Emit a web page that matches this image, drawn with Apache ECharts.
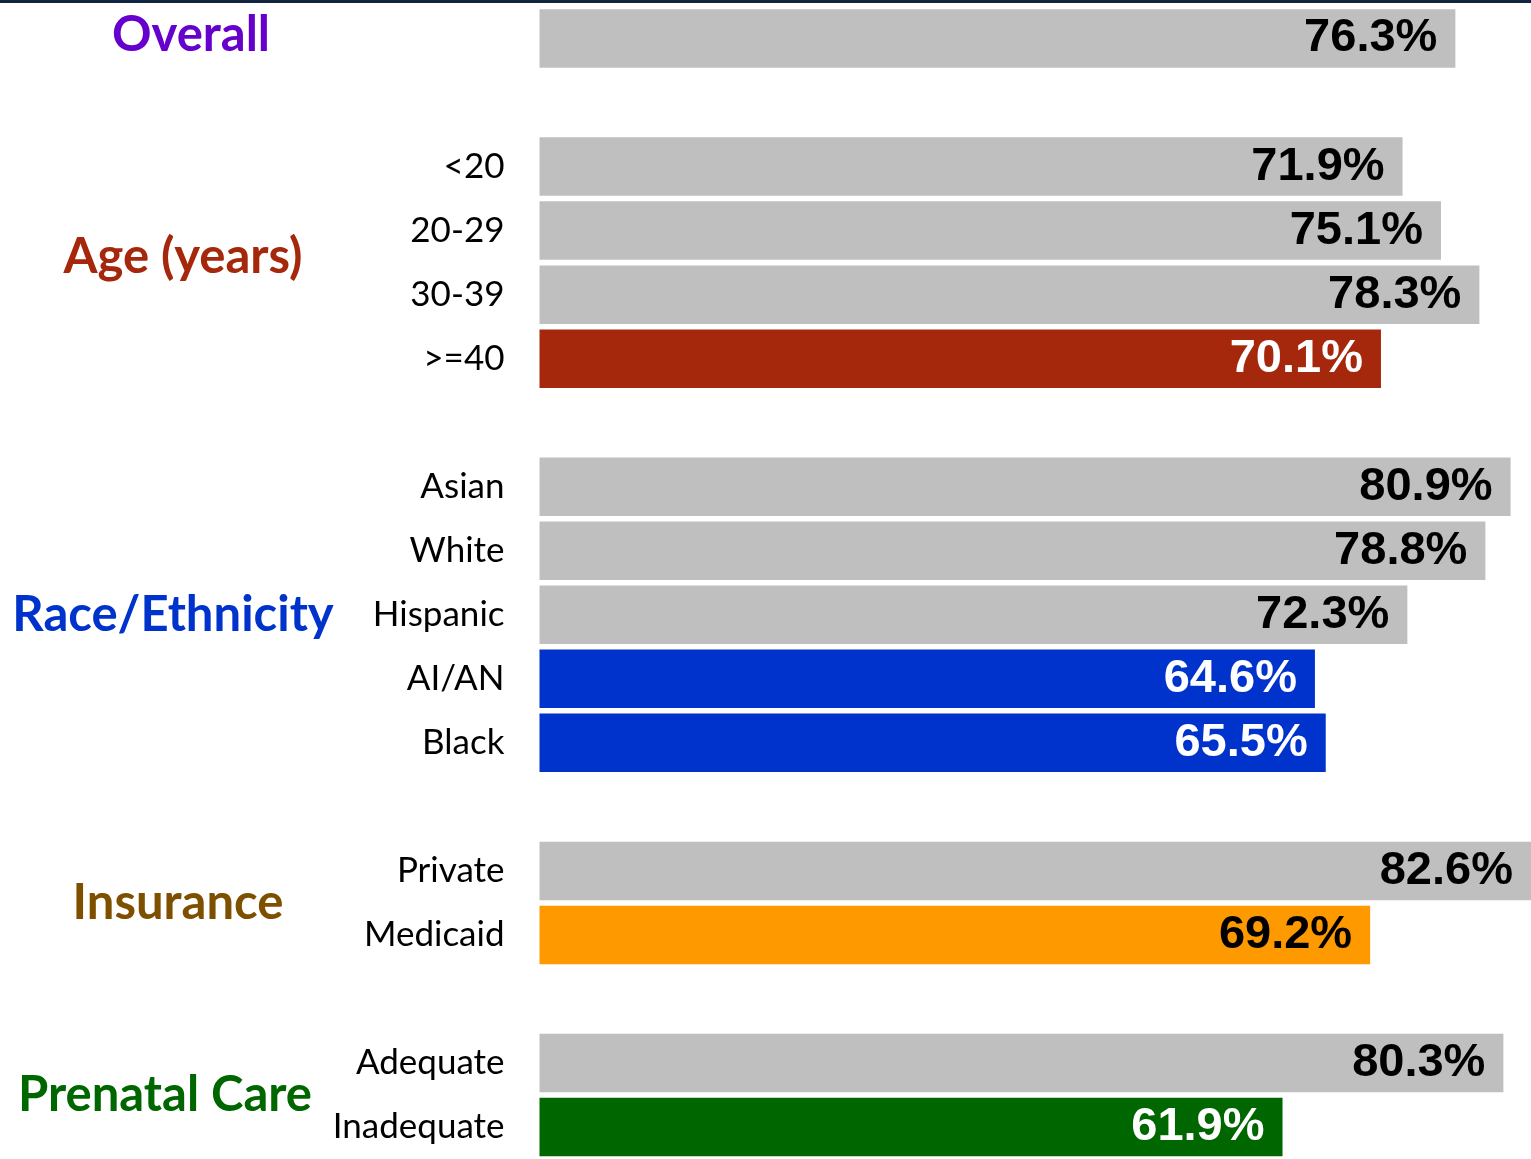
<!DOCTYPE html>
<html>
<head>
<meta charset="utf-8">
<script src="https://cdn.jsdelivr.net/npm/echarts@6/dist/echarts.min.js"></script>
<style>
html,body{margin:0;padding:0;background:#fff;}
#chart{width:1531px;height:1159px;}
</style>
</head>
<body>
<div id="chart"></div>
<script>
// ---- data ----
var categories = ['Overall','gap1','<20','20-29','30-39','>=40','gap2','Asian','White','Hispanic','AI/AN','Black','gap3','Private','Medicaid','gap4','Adequate','Inadequate'];
var values     = [76.3, null, 71.9, 75.1, 78.3, 70.1, null, 80.9, 78.8, 72.3, 64.6, 65.5, null, 82.6, 69.2, null, 80.3, 61.9];
var highlight  = ['','', '', '', '', 'age', '', '', '', '', 'race', 'race', '', '', 'ins', '', '', 'care'];
var groupNames = ['Overall','Age (years)','Race/Ethnicity','Insurance','Prenatal Care'];
var groupFirst = ['Overall','<20','Asian','Private','Adequate'];
var groupLast  = ['Overall','>=40','Black','Medicaid','Inadequate'];

// ---- styles ----
var barColors = {'':'#BFBFBF', age:'#A5270C', race:'#0033CC', ins:'#FF9900', care:'#006600'};
var labelColors = {'':'#000000', age:'#FFFFFF', race:'#FFFFFF', ins:'#000000', care:'#FFFFFF'};
var groupColors = ['#6600CC','#A5270C','#0033CC','#7F4F00','#006600'];
var groupCenterX = [191, 183, 173, 178, 165];

var chart = echarts.init(document.getElementById('chart'));

var seriesData = values.map(function(v, i){
  var k = highlight[i];
  return {
    value: v,
    itemStyle: {color: barColors[k]},
    label: {color: labelColors[k]}
  };
});

chart.setOption({
  animation: false,
  backgroundColor: '#ffffff',
  grid: {left: 539.5, top: 6.5, width: 995, height: 1155.6, containLabel: false},
  xAxis: {
    type: 'value', min: 0, max: 82.6,
    show: false
  },
  yAxis: {
    type: 'category', data: categories, inverse: true,
    axisLine: {show: false}, axisTick: {show: false}, splitLine: {show: false},
    axisLabel: {
      margin: 35, fontFamily: 'Lato', fontSize: 35, color: '#000',
      formatter: function(v){ return v.indexOf('gap') === 0 || v === 'Overall' ? '' : v; }
    }
  },
  series: [{
    type: 'bar', data: seriesData, barWidth: 58.5, clip: false,
    label: {
      show: true, position: 'insideRight', distance: 18,
      fontFamily: 'Liberation Sans, Arial', fontWeight: 'bold', fontSize: 47,
      formatter: function(p){ return p.value == null ? '' : p.value.toFixed(1) + '%'; }
    }
  }]
});

var graphics = [{
  type: 'rect', shape: {x: 0, y: 0, width: 1531, height: 3},
  style: {fill: '#0F2540'}, z: 100
}];
groupNames.forEach(function(name, i){
  var y1 = chart.convertToPixel({yAxisIndex: 0}, groupFirst[i]);
  var y2 = chart.convertToPixel({yAxisIndex: 0}, groupLast[i]);
  graphics.push({
    type: 'text', x: groupCenterX[i], y: (y1 + y2) / 2 - (i === 0 ? 3 : (i === 1 ? 5 : 0)),
    style: {
      text: name, fill: groupColors[i], fontFamily: 'Lato', fontWeight: 'bold',
      fontSize: 49, textAlign: 'center', textVerticalAlign: 'middle'
    }
  });
});
chart.setOption({graphic: graphics});
</script>
</body>
</html>
